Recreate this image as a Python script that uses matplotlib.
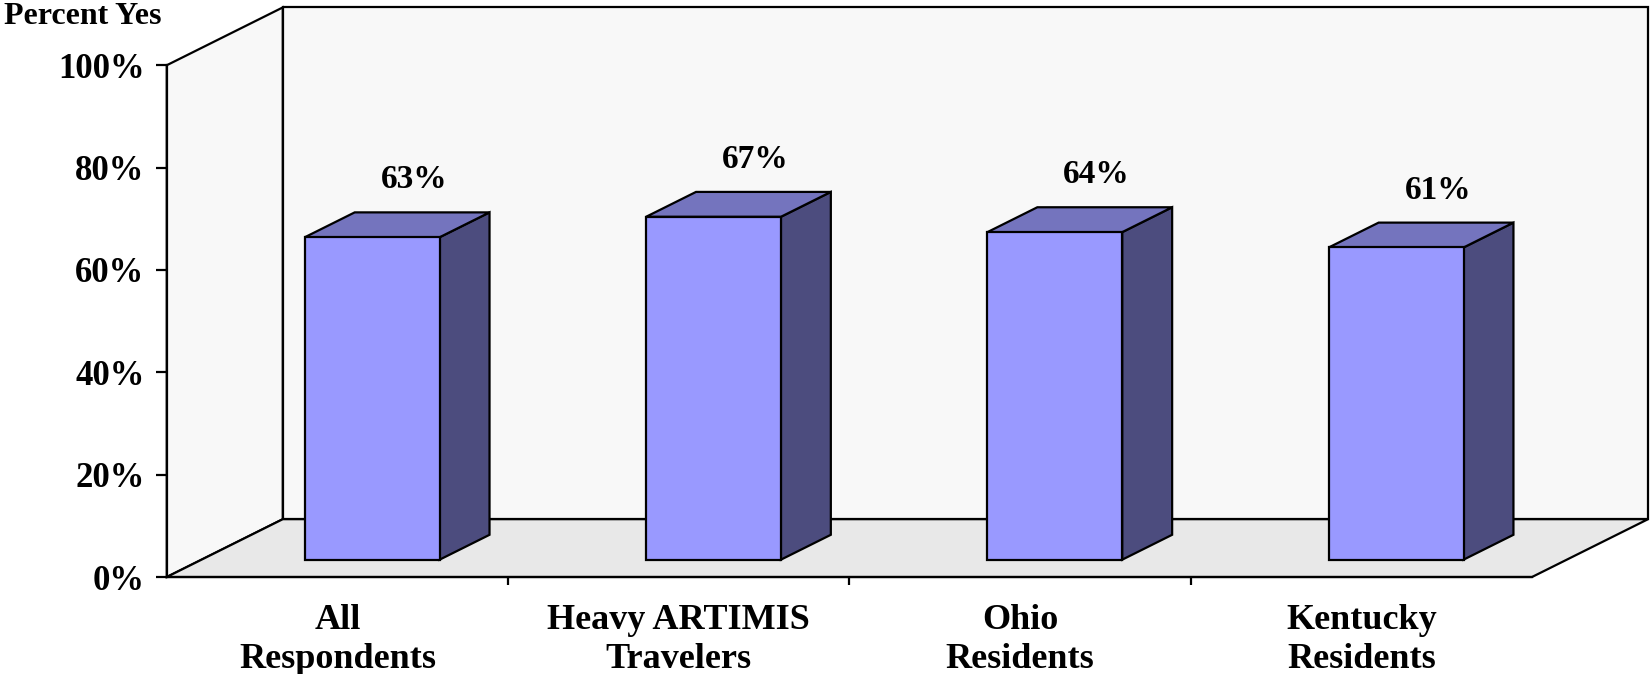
import matplotlib
matplotlib.use("Agg")
import matplotlib.pyplot as plt
from matplotlib.patches import Polygon

# Survey results: share answering "yes" in each group
categories = ["All\nRespondents", "Heavy ARTIMIS\nTravelers", "Ohio\nResidents", "Kentucky\nResidents"]
percent_yes = [63, 67, 64, 61]
value_labels = ["63%", "67%", "64%", "61%"]
y_ticks = [0, 20, 40, 60, 80, 100]
y_tick_labels = ["0%", "20%", "40%", "60%", "80%", "100%"]

# oblique "3D" look: depth offset of the back wall in data units
DX, DY = 0.34, 11.3
BAR_W = 0.395
D_FRONT, D_BACK = 0.30, 0.73

FRONT = "#9999FF"
SIDE = "#4C4C7E"
TOP = "#7474BE"
WALL = "#F8F8F8"
FLOOR = "#E8E8E8"
LW = 1.6

plt.rcParams['font.family'] = ['Liberation Serif', 'DejaVu Serif']
plt.rcParams['font.weight'] = 'bold'

fig = plt.figure(figsize=(16.51, 6.74), dpi=100)
ax = fig.add_axes([0.101, 0.1439, 0.8972, 0.8451])
n = len(categories)
ax.set_xlim(0, n + DX)
ax.set_ylim(0, 100 + DY)
ax.set_facecolor("none")


def poly(pts, color, z):
    ax.add_patch(Polygon(pts, closed=True, facecolor=color, edgecolor="black",
                         linewidth=LW, joinstyle="miter", clip_on=False, zorder=z))


# walls and floor
poly([(0, 0), (DX, DY), (DX, 100 + DY), (0, 100)], WALL, 1)
poly([(DX, DY), (n + DX, DY), (n + DX, 100 + DY), (DX, 100 + DY)], WALL, 1)
poly([(0, 0), (n, 0), (n + DX, DY), (DX, DY)], FLOOR, 2)

# bars
for i, v in enumerate(percent_yes):
    x0 = i + 0.5 - BAR_W / 2
    x1 = x0 + BAR_W
    fx, fy = D_FRONT * DX, D_FRONT * DY
    bx, by = D_BACK * DX, D_BACK * DY
    poly([(x1 + fx, fy), (x1 + bx, by), (x1 + bx, v + by), (x1 + fx, v + fy)], SIDE, 3)
    poly([(x0 + fx, v + fy), (x1 + fx, v + fy), (x1 + bx, v + by), (x0 + bx, v + by)], TOP, 3)
    poly([(x0 + fx, fy), (x1 + fx, fy), (x1 + fx, v + fy), (x0 + fx, v + fy)], FRONT, 4)
    ax.text(i + 0.5 + 0.66 * DX, v + 14.6, value_labels[i], ha="center", va="center",
            fontsize=24, fontweight="bold")
    ax.text(i + 0.5, -5.3, categories[i], ha="center", va="top", fontsize=26,
            fontweight="bold", linespacing=1.24)

# axes: front-left value axis and category boundary ticks
for s in ["top", "right"]:
    ax.spines[s].set_visible(False)
ax.spines["left"].set_bounds(0, 100)
ax.spines["bottom"].set_bounds(0, n)
ax.spines["left"].set_linewidth(LW)
ax.spines["bottom"].set_linewidth(LW)
ax.spines["left"].set_zorder(5)
ax.set_yticks(y_ticks)
ax.set_yticklabels(y_tick_labels, fontsize=25, fontweight="bold")
ax.tick_params(axis="y", direction="out", length=8, width=LW, pad=8)
ax.set_xticks(range(1, n))
ax.set_xticklabels([])
ax.tick_params(axis="x", direction="out", length=6, width=LW)

fig.text(0.0025, 0.975, "Percent Yes", ha="left", va="center", fontsize=23, fontweight="bold")

fig.savefig("out.png", dpi=100)
